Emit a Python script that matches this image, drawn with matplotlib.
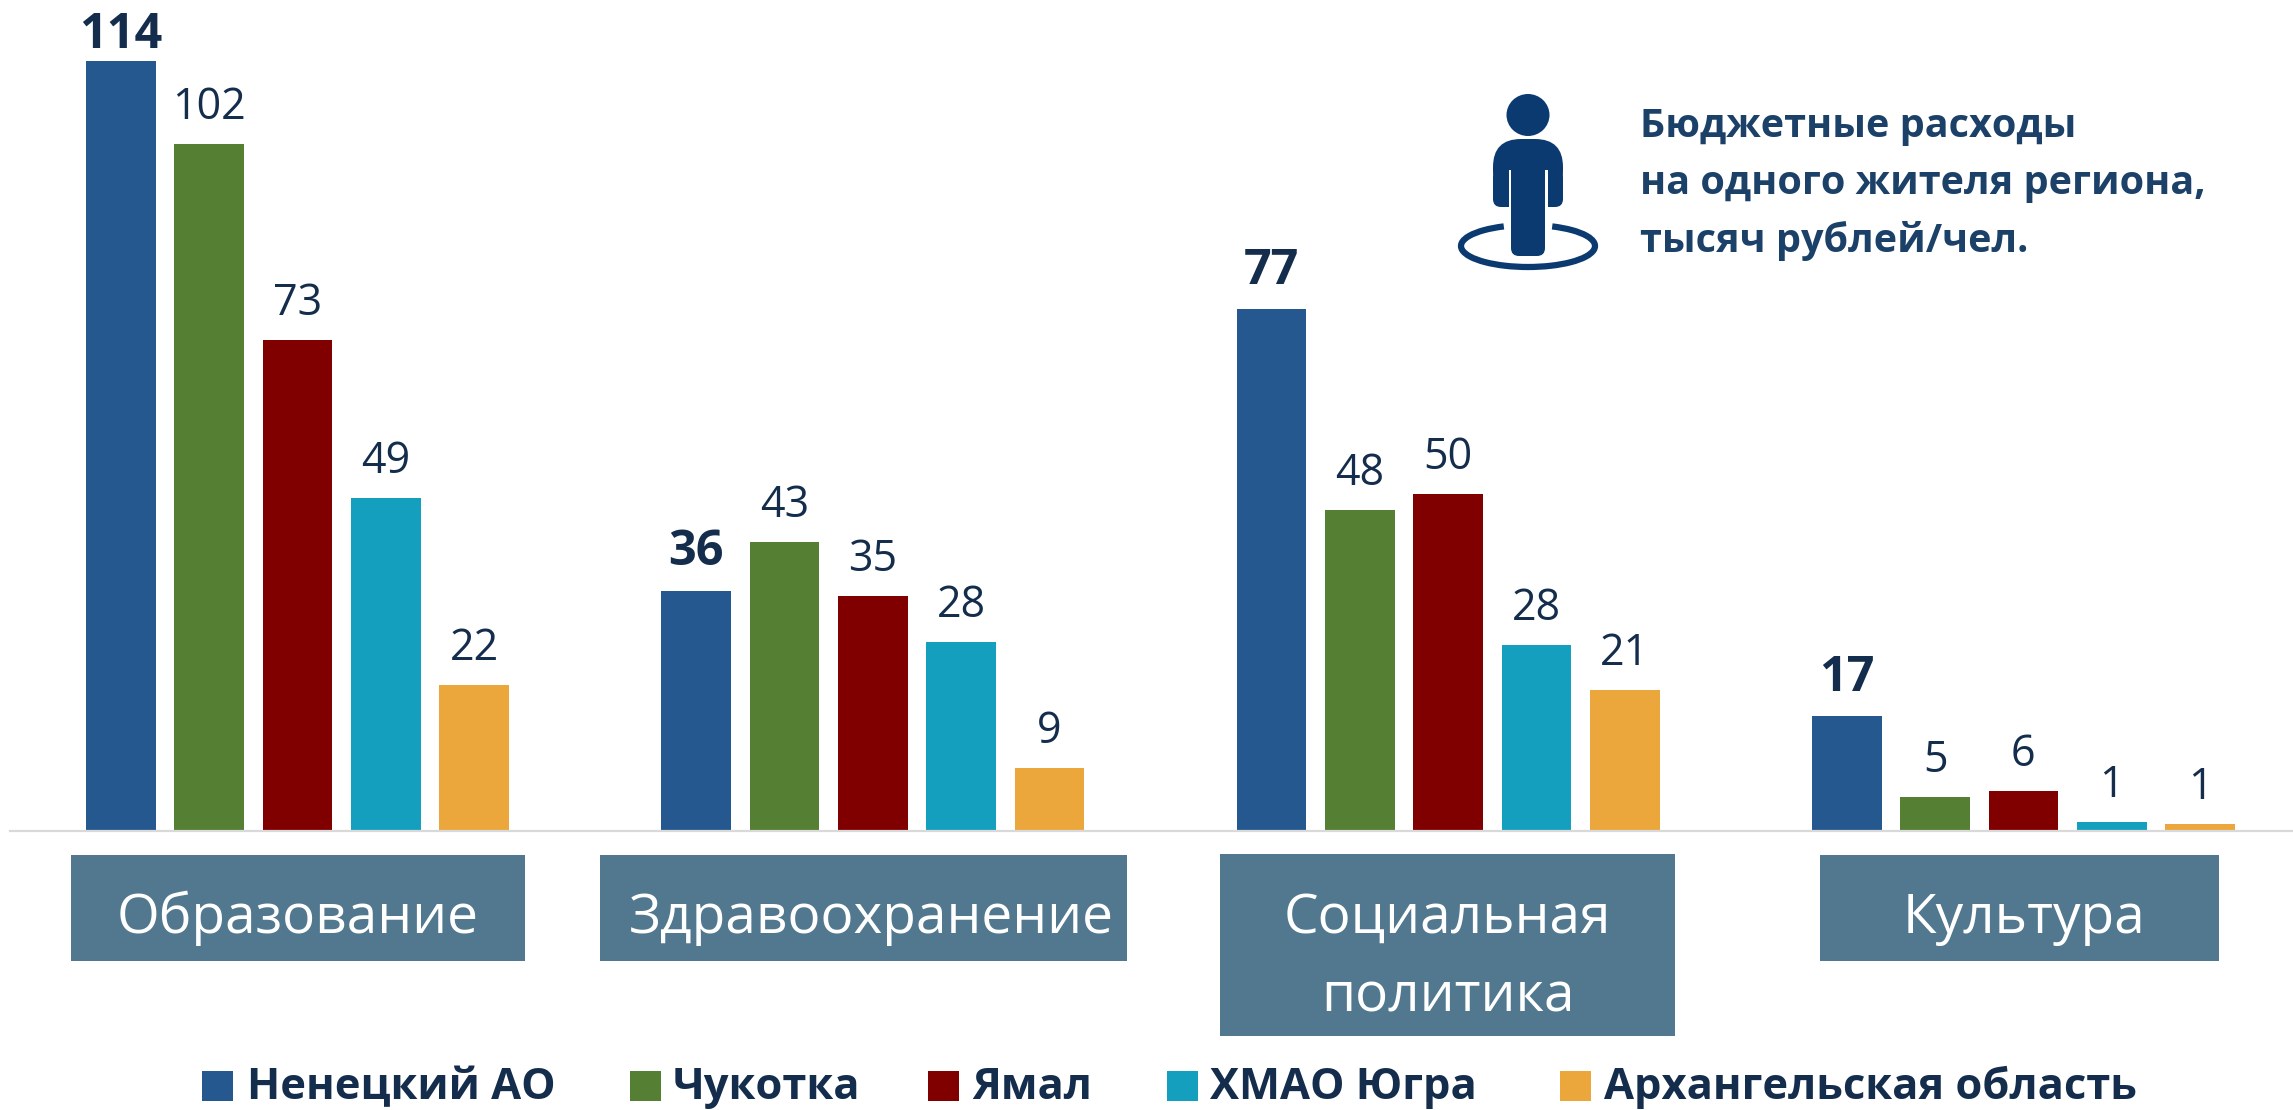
import numpy as np
import matplotlib
matplotlib.use('Agg')
import matplotlib.pyplot as plt
from matplotlib.patches import Arc, Ellipse, FancyBboxPatch, Rectangle

plt.rcParams['font.family'] = ['Open Sans', 'DejaVu Sans']

W, H = 2293, 1110

regions = ['Ненецкий АО', 'Чукотка', 'Ямал', 'ХМАО Югра', 'Архангельская область']
colors = ['#25588e', '#558033', '#800000', '#149fbe', '#eba63c']

# bar heights, labels show them rounded
nao = [114, 35.5, 77.2, 16.9]
chukotka = [101.7, 42.8, 47.5, 5.0]
yamal = [72.6, 34.8, 49.9, 5.8]
hmao = [49.3, 27.9, 27.5, 1.2]
arkh = [21.6, 9.3, 20.8, 1.0]
series = [nao, chukotka, yamal, hmao, arkh]

categories = [['Образование'], ['Здравоохранение'], ['Социальная', 'политика'], ['Культура']]
note = ['Бюджетные расходы', 'на одного жителя региона,', 'тысяч рублей/чел.']

text_dark = '#142d4c'
icon_blue = '#0b3a70'

fig = plt.figure(figsize=(W / 100, H / 100), dpi=100, facecolor='white')

# bars, one x unit = one bar step
base_y = 830.5
ax = fig.add_axes([10 / W, 1 - base_y / H, (W - 10) / W, base_y / H])
step = 88.3
ax.set_xlim((10 - 121) / step, (W - 121) / step)
ax.set_ylim(0, base_y / 6.75)
ax.patch.set_alpha(0)
for side in ['top', 'left', 'right']:
    ax.spines[side].set_visible(False)
ax.spines['bottom'].set_color('#d9d9d9')
ax.spines['bottom'].set_linewidth(1.6)
ax.set_xticks([])
ax.set_yticks([])

group_x = np.arange(4) * 6.515
bold_gap = [9.4, 18.5, 18.5, 18.5]
for j, vals in enumerate(series):
    x = group_x + j
    ax.bar(x, vals, width=0.79, color=colors[j], zorder=2)
    for k, (xi, v) in enumerate(zip(x, vals)):
        if j == 0:
            ax.annotate(str(round(v)), (xi, v), xytext=(0, bold_gap[k]), textcoords='offset points',
                        ha='center', va='baseline', fontsize=35, fontweight='bold', color=text_dark)
        else:
            ax.annotate(str(round(v)), (xi, v), xytext=(0, 18), textcoords='offset points',
                        ha='center', va='baseline', fontsize=31, color=text_dark)

# everything else placed in picture pixels
ov = fig.add_axes([0, 0, 1, 1])
ov.set_xlim(0, W)
ov.set_ylim(H, 0)
ov.axis('off')
ov.patch.set_alpha(0)

boxes = [(71, 855, 525, 961), (600, 855, 1127, 961), (1220, 854, 1675, 1036), (1820, 855, 2219, 961)]
text_x = [298, 871.5, 1447.5, 2024]
line_y = [933, 1012]
for (x0, y0, x1, y1), cx, cat in zip(boxes, text_x, categories):
    ov.add_patch(Rectangle((x0, y0), x1 - x0, y1 - y0, color='#51788f', lw=0))
    for line, y in zip(cat, line_y):
        ov.text(cx, y, line, ha='center', va='baseline', color='white', fontsize=39.6)

# legend
swatch_x = [202, 630, 928, 1167, 1560]
label_x = [247, 673, 972, 1210, 1604]
for sx, lx, name, c in zip(swatch_x, label_x, regions, colors):
    ov.add_patch(Rectangle((sx, 1071), 31, 30, color=c, lw=0))
    ov.text(lx, 1099, name, ha='left', va='baseline', fontsize=31.3, fontweight='bold', color=text_dark)

# person icon
ov.add_patch(Ellipse((1528, 115), 43, 42, color=icon_blue, lw=0))
ov.add_patch(FancyBboxPatch((1493, 139), 70, 60, boxstyle='round,pad=0,rounding_size=28', color=icon_blue, lw=0))
ov.add_patch(FancyBboxPatch((1493, 170), 70, 37, boxstyle='round,pad=0,rounding_size=8', color=icon_blue, lw=0))
ov.add_patch(Rectangle((1508.6, 170), 2.4, 40, color='white', lw=0))
ov.add_patch(Rectangle((1545.4, 170), 2.4, 40, color='white', lw=0))
ov.add_patch(Rectangle((1507, 207), 42, 6, color='white', lw=0))
ov.add_patch(FancyBboxPatch((1511, 190), 34, 66, boxstyle='round,pad=0,rounding_size=8', color=icon_blue, lw=0))
ov.add_patch(Arc((1528, 246), 134, 42, theta1=-39, theta2=219, color=icon_blue, lw=4.5))

for line, y in zip(note, [137, 194, 252]):
    ov.text(1640, y, line, ha='left', va='baseline', fontsize=28.5, fontweight='bold', color='#1c4168')

fig.savefig('out.png', dpi=100)
